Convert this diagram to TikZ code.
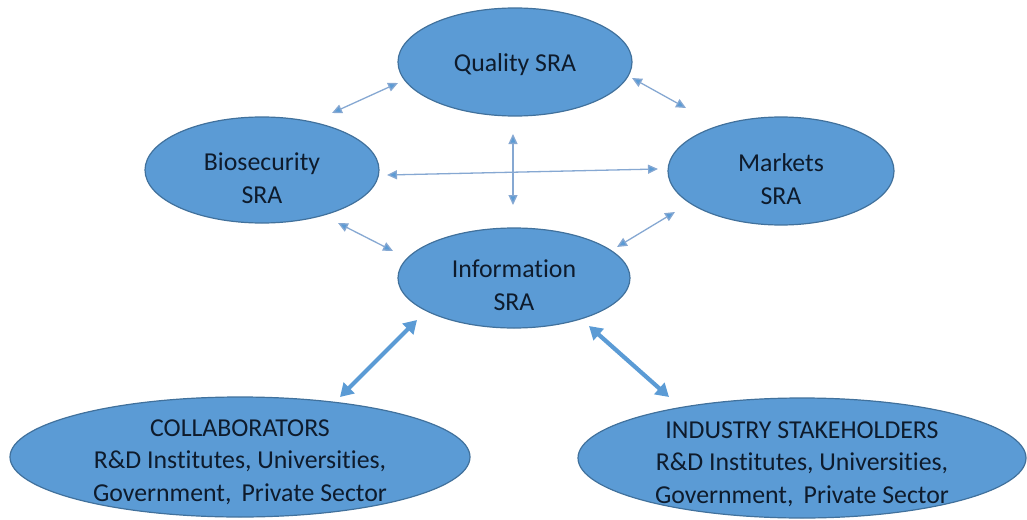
\documentclass[tikz,border=0pt]{standalone}
\usepackage{fontspec}
\setmainfont{Carlito}[Ligatures={NoCommon}]
\usetikzlibrary{shapes.geometric,arrows.meta,calc}
\definecolor{blobfill}{HTML}{5B9BD5}
\definecolor{blobline}{HTML}{41719C}
\definecolor{txtcol}{HTML}{0E1B2C}
\definecolor{thincol}{HTML}{86A8D2}
\definecolor{thickcol}{HTML}{5B9BD5}
\tikzset{
  blob/.style={ellipse, draw=blobline, fill=blobfill, line width=1.2pt, inner sep=0pt},
  lbl/.style={align=center, text=txtcol, font=\fontsize{25.8}{32.5}\selectfont, inner sep=0pt},
  thinarrow/.style={draw=thincol, line width=1.3pt, {Triangle[length=10pt,width=9pt,fill=blobfill]}-{Triangle[length=10pt,width=9pt,fill=blobfill]}},
  thickarrow/.style={draw=thickcol, line width=4.2pt, {Triangle[length=13pt,width=15pt]}-{Triangle[length=13pt,width=15pt]}}
}
\begin{document}
\begin{tikzpicture}[x=1pt,y=1pt]
\useasboundingbox (0,0) rectangle (1027,-519);
% ellipses
\node[blob, minimum width=234pt, minimum height=108pt] (qual) at (515,-62) {};
\node[blob, minimum width=234pt, minimum height=106pt] (bio) at (262,-170) {};
\node[blob, minimum width=226pt, minimum height=108pt] (mark) at (781,-171) {};
\node[blob, minimum width=232pt, minimum height=100pt] (info) at (514,-278) {};
\node[blob, minimum width=460pt, minimum height=120pt] (coll) at (240,-457) {};
\node[blob, minimum width=448pt, minimum height=120pt] (ind) at (802,-458) {};
% labels
\node[lbl] (qualt) at ($(qual)+(0,-3)$) {Quality SRA};
\node[lbl] (biot) at ($(bio)+(0,-8)$) {Biosecurity\\SRA};
\node[lbl] (markt) at ($(mark)+(0,-8)$) {Markets\\SRA};
\node[lbl] (infot) at ($(info)+(0,-7)$) {Information\\SRA};
\node[lbl] (collt) at ($(coll)+(0,-5)$) {COLLABORATORS\\R\&D Institutes, Universities,\\Government,\, Private Sector};
\node[lbl] (indt) at ($(ind)+(0,-6)$) {INDUSTRY STAKEHOLDERS\\R\&D Institutes, Universities,\\Government,\, Private Sector};
% thin arrows
\draw[thinarrow] ($(bio)+(70,57)$) -- ($(qual)+(-117,-21)$);
\draw[thinarrow] ($(qual)+(117,-16)$) -- ($(mark)+(-95,63)$);
\draw[thinarrow] ($(bio)+(125,-5)$) -- ($(mark)+(-123,2)$);
\draw[thinarrow] ($(qual)+(-2,-72)$) -- ($(info)+(-1,73)$);
\draw[thinarrow] ($(bio)+(76,-53)$) -- ($(info)+(-121,27)$);
\draw[thinarrow] ($(mark)+(-106,-41)$) -- ($(info)+(103,31)$);
% thick arrows
\draw[thickarrow] ($(info)+(-97,-42)$) -- ($(coll)+(100,60)$);
\draw[thickarrow] ($(info)+(75,-48)$) -- ($(ind)+(-133,61)$);
\end{tikzpicture}
\end{document}
